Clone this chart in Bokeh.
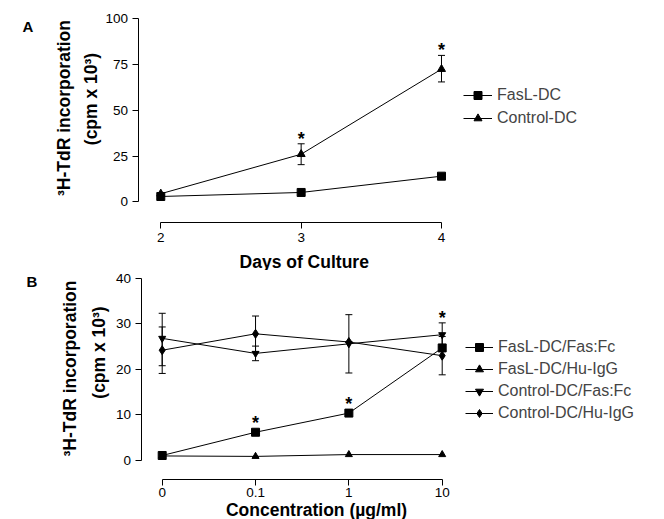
import math
from bokeh.plotting import figure
from bokeh.models import Label, Legend, LegendItem, FixedTicker, Range1d
from bokeh.layouts import column
from bokeh.embed import file_html
from bokeh.resources import INLINE
from bokeh.core.properties import value

NaN = float("nan")
FONT = "Liberation Sans"

# ---------------- Panel A data ----------------
days = [2, 3, 4]
fasl_dc = [2.9, 5.1, 14.0]
control_dc = [4.4, 26.0, 72.5]
control_dc_lo = [NaN, 20.3, 65.5]
control_dc_hi = [NaN, 31.7, 80.0]
a_yticks = [0, 25, 50, 75, 100]
a_star_days = [3, 4]
a_star_y = [31.7, 80.0]

# ---------------- Panel B data ----------------
conc_labels = ["0", "0.1", "1", "10"]
conc_pos = [0, 1, 2, 3]
fasl_fasfc = [1.1, 6.2, 10.4, 24.7]
fasl_huigg = [1.0, 0.9, 1.3, 1.3]
ctrl_fasfc = [26.8, 23.5, 25.6, 27.6]
ctrl_fasfc_lo = [20.8, 21.9, NaN, 24.9]
ctrl_fasfc_hi = [32.3, 25.1, NaN, 30.2]
ctrl_huigg = [24.2, 27.8, 26.0, 23.0]
ctrl_huigg_lo = [19.1, 23.9, 19.2, 18.8]
ctrl_huigg_hi = [29.3, 31.7, 32.0, 27.2]
b_yticks = [0, 10, 20, 30, 40]
b_star_pos = [1, 2, 3]
b_star_y = [6.2, 10.4, 29.3]


def style_axes(p, tick_standoff_x, tick_standoff_y):
    for ax in (p.xaxis[0], p.yaxis[0]):
        ax.axis_line_color = "black"
        ax.axis_line_width = 1
        ax.major_tick_line_color = "black"
        ax.major_tick_out = 6
        ax.major_tick_in = 0
        ax.minor_tick_line_color = None
        ax.major_label_text_font = FONT
        ax.major_label_text_font_size = "13.5px"
        ax.major_label_text_color = "black"
    p.xaxis[0].major_label_standoff = tick_standoff_x
    p.yaxis[0].major_label_standoff = tick_standoff_y
    p.xgrid.visible = False
    p.ygrid.visible = False
    p.outline_line_color = None
    p.background_fill_color = None
    p.border_fill_color = None


def lab(p, x, y, text, size, bold=False, angle=0.0, align="left"):
    p.add_layout(Label(x=x, y=y, x_units="screen", y_units="screen", text=text,
                       text_font=FONT, text_font_size=size,
                       text_font_style="bold" if bold else "normal",
                       angle=angle, text_align=align, text_baseline="alphabetic",
                       text_color="black"))


def errbars(p, xs, lo, hi):
    p.segment(x0=xs, y0=lo, x1=xs, y1=hi, line_color="black", line_width=1)
    p.scatter(xs, lo, marker="dash", size=7, line_color="black", line_width=1)
    p.scatter(xs, hi, marker="dash", size=7, line_color="black", line_width=1)


def stars(p, xs, ys, yoff):
    p.text(xs, ys, text=["*"] * len(xs), text_font=value(FONT), text_color="black",
           text_font_size="18px", text_font_style="bold", text_align="center",
           text_baseline="alphabetic", y_offset=yoff)


# ================= Panel A =================
pA = figure(width=664, height=270, output_backend="svg", toolbar_location=None,
            x_range=Range1d(0.8579, 5.5889), y_range=Range1d(-37.54, 110.0),
            min_border_left=0, min_border_right=0, min_border_top=0,
            min_border_bottom=0)
style_axes(pA, 5, 4)
pA.xaxis[0].ticker = FixedTicker(ticks=days)
pA.xaxis[0].bounds = (min(days), max(days))
pA.xaxis[0].fixed_location = -11.15
pA.yaxis[0].ticker = FixedTicker(ticks=a_yticks)
pA.yaxis[0].bounds = (min(a_yticks), max(a_yticks))
pA.yaxis[0].fixed_location = 1.8376

errbars(pA, days, control_dc_lo, control_dc_hi)
la1 = pA.line(days, fasl_dc, line_color="black", line_width=1)
sa1 = pA.scatter(days, fasl_dc, marker="square", size=8, color="black")
la2 = pA.line(days, control_dc, line_color="black", line_width=1)
sa2 = pA.scatter(days, control_dc, marker="triangle", size=8, color="black")
stars(pA, a_star_days, a_star_y, -5)

legA = Legend(items=[LegendItem(label="FasL-DC", renderers=[la1, sa1]),
                     LegendItem(label="Control-DC", renderers=[la2, sa2])],
              location=(463, 142), padding=0, margin=0, spacing=3,
              glyph_width=29, glyph_height=20, label_height=20, label_standoff=5,
              label_text_font=FONT, label_text_font_size="16px",
              border_line_color=None, background_fill_alpha=0)
pA.add_layout(legA)

lab(pA, 22, 244, "A", "15px", bold=True)
lab(pA, 63, 162.5, "³H-TdR incorporation", "17.5px", bold=True, angle=math.pi / 2, align="center")
lab(pA, 90, 171.5, "(cpm x 10³)", "17.5px", bold=True, angle=math.pi / 2, align="center")
lab(pA, 303.7, 9, "Days of Culture", "17.5px", bold=True, align="center")

# ================= Panel B =================
pB = figure(width=664, height=249, output_backend="svg", toolbar_location=None,
            x_range=Range1d(-1.7326, 5.3820), y_range=Range1d(-12.946, 41.69),
            min_border_left=0, min_border_right=0, min_border_top=0,
            min_border_bottom=0)
style_axes(pB, 2, 4)
pB.xaxis[0].ticker = FixedTicker(ticks=conc_pos)
pB.xaxis[0].major_label_overrides = {i: s for i, s in zip(conc_pos, conc_labels)}
pB.xaxis[0].bounds = (min(conc_pos), max(conc_pos))
pB.xaxis[0].fixed_location = -4.235
pB.yaxis[0].ticker = FixedTicker(ticks=b_yticks)
pB.yaxis[0].bounds = (min(b_yticks), max(b_yticks))
pB.yaxis[0].fixed_location = -0.2271

errbars(pB, conc_pos, ctrl_fasfc_lo, ctrl_fasfc_hi)
errbars(pB, conc_pos, ctrl_huigg_lo, ctrl_huigg_hi)
lb1 = pB.line(conc_pos, fasl_fasfc, line_color="black", line_width=1)
sb1 = pB.scatter(conc_pos, fasl_fasfc, marker="square", size=8, color="black")
lb2 = pB.line(conc_pos, fasl_huigg, line_color="black", line_width=1)
sb2 = pB.scatter(conc_pos, fasl_huigg, marker="triangle", size=7, color="black")
lb3 = pB.line(conc_pos, ctrl_fasfc, line_color="black", line_width=1)
sb3 = pB.scatter(conc_pos, ctrl_fasfc, marker="inverted_triangle", size=7, color="black")
lb4 = pB.line(conc_pos, ctrl_huigg, line_color="black", line_width=1)
sb4 = pB.scatter(conc_pos, ctrl_huigg, marker="diamond", size=9, color="black")
stars(pB, b_star_pos, b_star_y, -9)

legB = Legend(items=[LegendItem(label="FasL-DC/Fas:Fc", renderers=[lb1, sb1]),
                     LegendItem(label="FasL-DC/Hu-IgG", renderers=[lb2, sb2]),
                     LegendItem(label="Control-DC/Fas:Fc", renderers=[lb3, sb3]),
                     LegendItem(label="Control-DC/Hu-IgG", renderers=[lb4, sb4])],
              location=(465, 96), padding=0, margin=0, spacing=2,
              glyph_width=28, glyph_height=20, label_height=20, label_standoff=5,
              label_text_font=FONT, label_text_font_size="16px",
              border_line_color=None, background_fill_alpha=0)
pB.add_layout(legB)

lab(pB, 26, 238, "B", "15px", bold=True)
lab(pB, 69.5, 151, "³H-TdR incorporation", "17.5px", bold=True, angle=math.pi / 2, align="center")
lab(pB, 98.5, 167, "(cpm x 10³)", "17.5px", bold=True, angle=math.pi / 2, align="center")
lab(pB, 316, 10, "Concentration (µg/ml)", "17.5px", bold=True, align="center")

layout = column(pA, pB, spacing=0)
open("out.html", "w").write(file_html(layout, INLINE))
